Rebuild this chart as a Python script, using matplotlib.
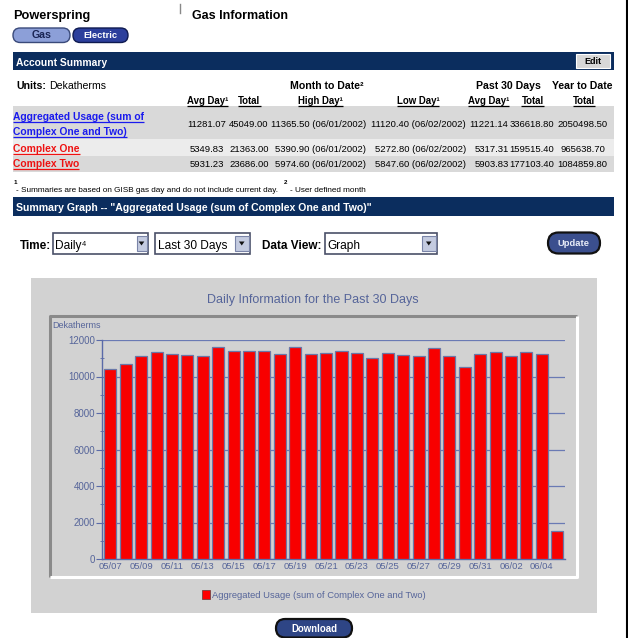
import matplotlib
matplotlib.use('Agg')
import matplotlib.pyplot as plt
from matplotlib.patches import Rectangle, FancyBboxPatch, Polygon
from matplotlib import font_manager

# ---------------- data ----------------
dates = ['05/07', '05/08', '05/09', '05/10', '05/11', '05/12', '05/13', '05/14',
         '05/15', '05/16', '05/17', '05/18', '05/19', '05/20', '05/21', '05/22',
         '05/23', '05/24', '05/25', '05/26', '05/27', '05/28', '05/29', '05/30',
         '05/31', '06/01', '06/02', '06/03', '06/04', '06/05']
usage = [10400, 10700, 11100, 11360, 11230, 11180, 11110, 11600,
         11420, 11420, 11420, 11230, 11600, 11230, 11300, 11420,
         11300, 11000, 11300, 11180, 11120, 11550, 11120, 10540,
         11230, 11365.5, 11120.4, 11345, 11218, 1550]
yticks = [0, 2000, 4000, 6000, 8000, 10000, 12000]

row_names = [['Aggregated Usage (sum of', 'Complex One and Two)'], ['Complex One'], ['Complex Two']]
avg_day = ['11281.07', '5349.83', '5931.23']
mtd_total = ['45049.00', '21363.00', '23686.00']
high_day = ['11365.50 (06/01/2002)', '5390.90 (06/01/2002)', '5974.60 (06/01/2002)']
low_day = ['11120.40 (06/02/2002)', '5272.80 (06/02/2002)', '5847.60 (06/02/2002)']
p30_avg = ['11221.14', '5317.31', '5903.83']
p30_total = ['336618.80', '159515.40', '177103.40']
ytd_total = ['2050498.50', '965638.70', '1084859.80']

# ---------------- fonts ----------------
names = {f.name for f in font_manager.fontManager.ttflist}
NARROW = 'Liberation Sans Narrow' if 'Liberation Sans Narrow' in names else 'Liberation Sans'
FN = [NARROW, 'DejaVu Sans']
FA = ['Liberation Sans', 'DejaVu Sans']

NAVY = '#0b2d5e'
SLATE = '#56659a'
PANEL = '#d2d2d2'

fig = plt.figure(figsize=(6.28, 6.38), dpi=100)
fig.patch.set_facecolor('white')
page = fig.add_axes([0, 0, 1, 1])
page.set_xlim(0, 628)
page.set_ylim(638, 0)
page.axis('off')

fits = []   # (text, target width, group)
unders = []


def rect(x0, y0, x1, y1, fc, ec='none', lw=0, z=1):
    page.add_patch(Rectangle((x0, y0), x1 - x0, y1 - y0, fc=fc, ec=ec, lw=lw, zorder=z))


def T(x, y, s, w=None, size=8, weight='normal', color='black', ha='left', va='baseline',
      fam=FN, under=False, z=5, group=None):
    t = page.text(x, y, s, fontsize=size, fontweight=weight, color=color, ha=ha, va=va,
                  family=fam, zorder=z)
    if w:
        fits.append((t, w, group))
    elif group:
        fits.append((t, None, group))
    if under:
        unders.append((t, color))
    return t


def pill(x0, y0, x1, y1, fc, ec, lw=1.0, z=3):
    h = y1 - y0
    page.add_patch(FancyBboxPatch((x0, y0), x1 - x0, h,
                                  boxstyle='round,pad=0,rounding_size=%f' % (h / 2.0),
                                  fc=fc, ec=ec, lw=lw, zorder=z))


# ---------------- header ----------------
T(13, 19, 'Powerspring', w=78, size=10.5, weight='bold')
page.plot([180, 180], [4, 13], color='#888888', lw=1)
T(192, 19, 'Gas Information', w=96, size=10.5, weight='bold')

pill(13, 28, 70, 42.5, '#8c9fd8', '#3a4a7a', lw=1.0)
T(41.5, 35.5, 'Gas', w=20, size=7, weight='bold', color='#1a2555', ha='center', va='center', z=6)
pill(73, 28, 128, 42.5, '#2c3f9c', '#0e1a50', lw=1.0)
T(100.5, 35.5, 'Electric', w=34, size=7, weight='bold', color='white', ha='center', va='center', z=6)

# account summary bar
rect(13, 52, 614, 70, NAVY)
T(15.5, 65.5, 'Account Summary', w=91, size=9, weight='bold', color='white')
rect(576, 54, 610, 67.5, '#d8d8d8', ec='#ffffff', lw=0.8, z=3)
T(593, 61, 'Edit', w=17, size=7, weight='bold', ha='center', va='center', z=6)

# table headings
T(16.5, 89, 'Units:', w=28.5, size=8.5, weight='bold', group='h1')
T(49.5, 89, 'Dekatherms', w=58, size=8.5, group='h1')
T(327, 89, 'Month to Date²', w=73, size=8.5, weight='bold', ha='center', group='h1')
T(541, 89, 'Past 30 Days', w=61, size=8.5, weight='bold', ha='right', group='h1')
T(613, 89, 'Year to Date', w=63, size=8.5, weight='bold', ha='right', group='h1')

heads = [('Avg Day¹', 207.5, 40), ('Total', 249.5, 23.5), ('High Day¹', 320.5, 48),
         ('Low Day¹', 418, 42.5), ('Avg Day¹', 488.5, 41), ('Total', 532.5, 21.5),
         ('Total', 584, 22)]
for s, x, w in heads:
    T(x, 104, s, w=w, size=8, weight='bold', under=True, ha='center', group='h2')

# table rows
rect(13, 106, 614, 139, '#d9d9d9', z=0.5)
rect(13, 139, 614, 156, '#ececec', z=0.5)
rect(13, 156, 614, 172, '#d9d9d9', z=0.5)

link_cols = ['#1a1aee', '#ee1111', '#ee1111']
link_base = [[120, 135], [152], [167]]
link_w = [[131, 113.5], [66], [67]]
val_base = [127, 152, 167]
for i in range(3):
    for k, s in enumerate(row_names[i]):
        T(13, link_base[i][k], s, w=link_w[i][k], size=9, weight='bold',
          color=link_cols[i], under=True, group='link')
    yb = val_base[i]
    T(207, yb, avg_day[i], size=7.8, ha='center', group='val', w=(39 if i == 0 else None))
    T(249, yb, mtd_total[i], size=7.8, ha='center', group='val')
    T(366, yb, high_day[i], size=7.8, ha='right', group='val')
    T(466, yb, low_day[i], size=7.8, ha='right', group='val')
    T(508.5, yb, p30_avg[i], size=7.8, ha='right', group='val')
    T(532, yb, p30_total[i], size=7.8, ha='center', group='val')
    T(582.5, yb, ytd_total[i], size=7.8, ha='center', group='val')

# footnotes
T(14, 184, '1', size=4.5, weight='bold')
T(16, 192.5, '- Summaries are based on GISB gas day and do not include current day.', w=265,
  size=6, group='foot')
T(284, 184, '2', size=4.5, weight='bold')
T(289.5, 192.5, '- User defined month', size=6, group='foot')

# summary graph bar
rect(13, 197, 614, 215.5, NAVY)
T(15.5, 211, 'Summary Graph -- "Aggregated Usage (sum of Complex One and Two)"', w=359, size=9,
  weight='bold', color='white')

# controls
T(19.5, 249, 'Time:', w=30.5, size=9, weight='bold', group='ctl')
T(261.5, 249, 'Data View:', w=61, size=9, weight='bold', group='ctl')


def dropdown(x0, x1, ax0, label, lw_text):
    rect(x0, 233, x1, 253.5, 'white', ec='#4a5068', lw=1.2, z=2)
    rect(ax0, 235.5, x1 - 1.5, 251, '#c4cbe0', ec='#7a84a8', lw=0.8, z=3)
    cx = (ax0 + x1 - 1.5) / 2.0
    page.add_patch(Polygon([[cx - 2.8, 241.5], [cx + 2.8, 241.5], [cx, 245.5]], closed=True,
                           fc='#111111', ec='none', zorder=4))
    T(x0 + 2.5, 248.5, label, w=lw_text, size=9, fam=FA, group='dd')


dropdown(53, 148, 136.5, 'Daily⁴', 28)
dropdown(155, 250, 235, 'Last 30 Days', 72)
dropdown(325, 437, 422, 'Graph', 36)

pill(548, 232.5, 600, 253.5, '#3b4f8e', '#111111', lw=1.6)
T(574, 243.5, 'Update', w=32, size=8, weight='bold', color='#e8ecf8', ha='center', va='center', z=6)

# ---------------- chart panel ----------------
rect(31, 278, 597, 613, PANEL, z=0.2)
# inner frame (bevel)
page.plot([50, 50, 577], [577, 315.5, 315.5], color='#8a8a8a', lw=2.2, zorder=1,
          solid_capstyle='butt')
page.plot([50, 577, 577], [577, 577, 315.5], color='#ffffff', lw=2.2, zorder=1,
          solid_capstyle='butt')

T(313, 303, 'Daily Information for the Past 30 Days', w=212, size=9, color=SLATE,
  ha='center', fam=FA)
T(52.5, 327.5, 'Dekatherms', w=49, size=6.3, color=SLATE, fam=FA)

# legend
rect(201.5, 590, 210, 599, '#ff0000', ec='#7a4040', lw=0.6, z=3)
T(212, 597.5, 'Aggregated Usage (sum of Complex One and Two)', w=214, size=6.8,
  color=SLATE, fam=FA)

# download button
pill(276, 619, 352, 637.5, '#2e4585', '#111111', lw=1.6)
T(314, 628.5, 'Download', w=46, size=8.5, weight='bold', color='white', ha='center',
  va='center', z=6)

# right border line of page
page.plot([626.5, 626.5], [0, 638], color='#000000', lw=1.5, zorder=6)

# ---------------- bar chart axes ----------------
W, H = 628.0, 638.0
L, R, TOP, BOT = 102.3, 565, 340, 559
ax = fig.add_axes([L / W, (H - BOT) / H, (R - L) / W, (BOT - TOP) / H])
ax.set_facecolor('none')
xs = list(range(len(dates)))
ax.bar(xs, usage, width=0.78, color='#f80000', edgecolor='#6a78a8', linewidth=0.9, zorder=3)
ax.set_xlim(-0.52, len(dates) - 0.5)
ax.set_ylim(0, 12000)
ax.set_yticks(yticks)
ax.set_yticks(range(1000, 12000, 2000), minor=True)
ax.set_yticklabels([str(v) for v in yticks], fontsize=7, color=SLATE, family=FA)
ax.set_xticks(xs)
ax.set_xticklabels([d if i % 2 == 0 else '' for i, d in enumerate(dates)], fontsize=6.8,
                   color=SLATE, family=FA)
ax.grid(axis='y', which='major', color='#6a7ab4', lw=0.9, zorder=0)
for sp in ['top', 'right']:
    ax.spines[sp].set_visible(False)
for sp in ['left', 'bottom']:
    ax.spines[sp].set_color('#5a6aa8')
    ax.spines[sp].set_linewidth(1.0)
ax.tick_params(axis='y', which='major', length=4, direction='out', color='#5a6aa8', pad=1)
ax.tick_params(axis='y', which='minor', length=3, direction='inout', color='#5a6aa8')
ax.tick_params(axis='x', which='major', length=3, direction='in', color='#5a6aa8', pad=2)

# ---------------- fit text widths (group-wise common size) & underlines ----------------
fig.canvas.draw()
r = fig.canvas.get_renderer()
group_sizes = {}
for t, w, g in fits:
    if w:
        bb = t.get_window_extent(r)
        if bb.width > 0:
            s = t.get_fontsize() * w / bb.width
            if g:
                group_sizes.setdefault(g, []).append(s)
            else:
                t.set_fontsize(s)
for t, w, g in fits:
    if g and g in group_sizes:
        sz = group_sizes[g]
        t.set_fontsize(sum(sz) / len(sz))
fig.canvas.draw()
inv = page.transData.inverted()
for t, c in unders:
    bb = t.get_window_extent(r)
    (x0, _), (x1, _) = inv.transform([[bb.x0, bb.y0], [bb.x1, bb.y1]])
    x, yb = t.get_position()
    page.plot([x0, x1], [yb + 1.6, yb + 1.6], color=c, lw=0.9, zorder=6,
              solid_capstyle='butt')

fig.savefig('out.png', dpi=100, facecolor='white')
